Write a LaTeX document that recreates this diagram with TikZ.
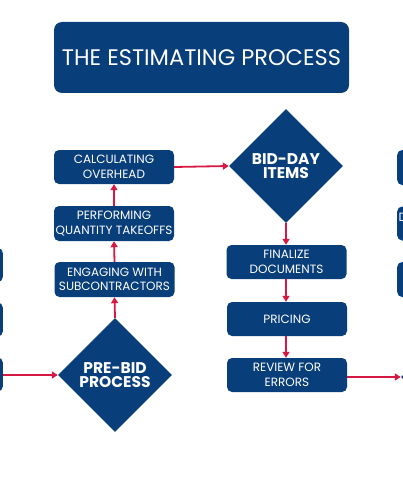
\documentclass[tikz,border=0pt]{standalone}
\usepackage{fontspec}
\setmainfont{Poppins}
\usetikzlibrary{shapes.geometric,arrows.meta}
\definecolor{navy}{RGB}{8,62,122}
\definecolor{arrowred}{RGB}{214,24,66}
\tikzset{
  box/.style={fill=navy, rounded corners=5pt, text=white, align=center, inner sep=0pt,
    minimum width=120pt, minimum height=34pt, font=\fontsize{12}{14.5}\selectfont},
  dia/.style={diamond, fill=navy, text=white, align=center, inner sep=0pt, aspect=1,
    minimum width=114pt, minimum height=114pt, font=\fontsize{15.5}{14}\selectfont\bfseries},
  link/.style={draw=arrowred, line width=1.8pt, -{Triangle[width=7pt,length=6pt]}},
}
\begin{document}
\begin{tikzpicture}[x=1pt,y=-1pt]
\useasboundingbox (0,0) rectangle (403,500);
\clip (0,0) rectangle (403,500);
\node[box, minimum width=295pt, minimum height=71pt, rounded corners=8pt,
  font=\fontsize{22.5}{24}\selectfont] (title) at (201.5,57.5) {THE ESTIMATING PROCESS};
\node[box] (calc) at (114,167) {CALCULATING\\OVERHEAD};
\node[box, minimum height=35pt] (perf) at (114,223.5) {PERFORMING\\QUANTITY TAKEOFFS};
\node[box, minimum height=35pt] (eng) at (114.5,279.5) {ENGAGING WITH\\SUBCONTRACTORS};
\node[dia] (pre) at (115,375) {PRE-BID\\PROCESS};
\node[dia] (bid) at (286,166) {BID-DAY\\ITEMS};
\node[box] (fin) at (286.5,262) {FINALIZE\\DOCUMENTS};
\node[box] (pri) at (287,319) {PRICING};
\node[box] (rev) at (287,375) {REVIEW FOR\\ERRORS};
% partial neighbours cut by the edges
\node[box, anchor=east] (l1) at (3,265) {};
\node[box, anchor=east] (l2) at (3,319.5) {};
\node[box, anchor=east] (l3) at (3,374.5) {};
\node[box, anchor=west, minimum height=35pt] (r1) at (397,167.5) {};
\node[box, anchor=west] (r2) at (397,223.5) {};
\node[box, anchor=west, minimum height=35pt] (r3) at (397,279.5) {};
\node[text=white, anchor=west, inner sep=0pt, font=\fontsize{12}{14}\selectfont] (r2t) at (398.5,217) {D};
\node[dia] (rdia) at (458,377) {};
% connectors
\draw[link] (l3.east |- pre.west) -- (pre.west);
\draw[link] (pre.north) -- (eng.south);
\draw[link] (eng.north) -- (perf.south);
\draw[link] (perf.north) -- (calc.south);
\draw[link] (calc.east) -- (bid.west);
\draw[link] (bid.south) -- (bid.south |- fin.north);
\draw[link] (fin.south -| bid.south) -- (bid.south |- pri.north);
\draw[link] (pri.south -| bid.south) -- (bid.south |- rev.north);
\draw[link] (rev.east |- rdia.west) -- (rdia.west);
\end{tikzpicture}
\end{document}
